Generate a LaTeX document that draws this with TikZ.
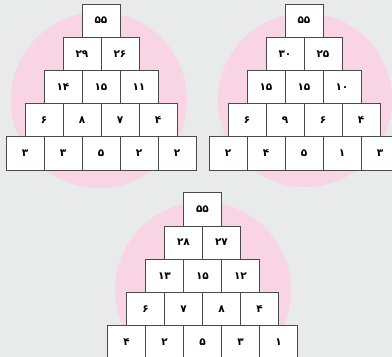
\documentclass[tikz,border=0pt]{standalone}
\usepackage{fontspec}
\newfontfamily\persianfont[Script=Arabic]{DejaVu Sans}
\usetikzlibrary{positioning}
\definecolor{pagegray}{HTML}{E9EAEA}
\definecolor{softpink}{HTML}{F8D4E4}
\definecolor{edgegray}{HTML}{4A4A4A}

\begin{document}
\begin{tikzpicture}[
    x=1pt, y=-1pt,
    cell/.style={rectangle, draw=edgegray, line width=0.8pt, fill=white,
                 minimum width=38pt, minimum height=33.2pt, inner sep=0pt, outer sep=0pt,
                 text centered, font=\persianfont\bfseries\fontsize{10.5}{12}\selectfont},
    halo/.style={fill=softpink},
]
\useasboundingbox (0,0) rectangle (392,357);
\clip (0,0) rectangle (392,357);
\fill[pagegray] (0,0) rectangle (392,357);

% Pink discs
\fill[halo] (99,100) circle[radius=88pt];
\fill[halo] (305,100) circle[radius=87pt];
\fill[halo] (203,290) circle[radius=88pt];

% Pyramid 1
\node[cell] (a1) at (101,20.6) {۵۵};
\node[cell, below=0pt of a1.south west] (a21) {۲۹};
\node[cell, below=0pt of a1.south east] (a22) {۲۶};
\node[cell, below=0pt of a21.south west] (a31) {۱۴};
\node[cell, below=0pt of a21.south east] (a32) {۱۵};
\node[cell, below=0pt of a22.south east] (a33) {۱۱};
\node[cell, below=0pt of a31.south west] (a41) {۶};
\node[cell, below=0pt of a31.south east] (a42) {۸};
\node[cell, below=0pt of a32.south east] (a43) {۷};
\node[cell, below=0pt of a33.south east] (a44) {۴};
\node[cell, below=0pt of a41.south west] (a51) {۳};
\node[cell, below=0pt of a41.south east] (a52) {۳};
\node[cell, below=0pt of a42.south east] (a53) {۵};
\node[cell, below=0pt of a43.south east] (a54) {۲};
\node[cell, below=0pt of a44.south east] (a55) {۲};

% Pyramid 2
\node[cell] (b1) at (304,20.6) {۵۵};
\node[cell, below=0pt of b1.south west] (b21) {۳۰};
\node[cell, below=0pt of b1.south east] (b22) {۲۵};
\node[cell, below=0pt of b21.south west] (b31) {۱۵};
\node[cell, below=0pt of b21.south east] (b32) {۱۵};
\node[cell, below=0pt of b22.south east] (b33) {۱۰};
\node[cell, below=0pt of b31.south west] (b41) {۶};
\node[cell, below=0pt of b31.south east] (b42) {۹};
\node[cell, below=0pt of b32.south east] (b43) {۶};
\node[cell, below=0pt of b33.south east] (b44) {۴};
\node[cell, below=0pt of b41.south west] (b51) {۲};
\node[cell, below=0pt of b41.south east] (b52) {۴};
\node[cell, below=0pt of b42.south east] (b53) {۵};
\node[cell, below=0pt of b43.south east] (b54) {۱};
\node[cell, below=0pt of b44.south east] (b55) {۳};

% Pyramid 3
\node[cell] (c1) at (202.5,209.3) {۵۵};
\node[cell, below=0pt of c1.south west] (c21) {۲۸};
\node[cell, below=0pt of c1.south east] (c22) {۲۷};
\node[cell, below=0pt of c21.south west] (c31) {۱۳};
\node[cell, below=0pt of c21.south east] (c32) {۱۵};
\node[cell, below=0pt of c22.south east] (c33) {۱۲};
\node[cell, below=0pt of c31.south west] (c41) {۶};
\node[cell, below=0pt of c31.south east] (c42) {۷};
\node[cell, below=0pt of c32.south east] (c43) {۸};
\node[cell, below=0pt of c33.south east] (c44) {۴};
\node[cell, below=0pt of c41.south west] (c51) {۴};
\node[cell, below=0pt of c41.south east] (c52) {۲};
\node[cell, below=0pt of c42.south east] (c53) {۵};
\node[cell, below=0pt of c43.south east] (c54) {۳};
\node[cell, below=0pt of c44.south east] (c55) {۱};

\end{tikzpicture}
\end{document}
